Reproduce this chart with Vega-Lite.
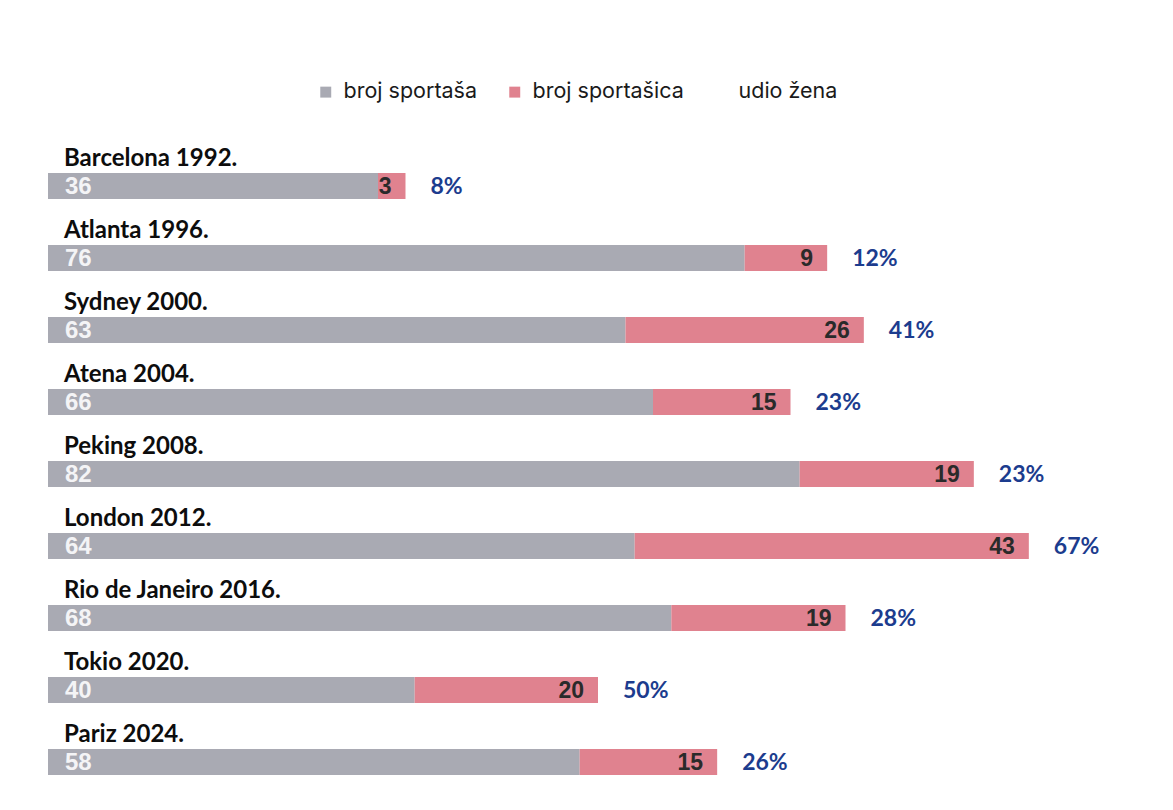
{
  "$schema": "https://vega.github.io/schema/vega-lite/v6.json",
  "width": 1173,
  "height": 810,
  "autosize": "none",
  "padding": 0,
  "background": "white",
  "config": {"view": {"stroke": null}},
  "data": {"values": [
    {"grad": "Barcelona 1992.", "spol": "broj sportaša", "broj": 36, "udio": 0.08},
    {"grad": "Barcelona 1992.", "spol": "broj sportašica", "broj": 3, "udio": 0.08},
    {"grad": "Atlanta 1996.", "spol": "broj sportaša", "broj": 76, "udio": 0.12},
    {"grad": "Atlanta 1996.", "spol": "broj sportašica", "broj": 9, "udio": 0.12},
    {"grad": "Sydney 2000.", "spol": "broj sportaša", "broj": 63, "udio": 0.41},
    {"grad": "Sydney 2000.", "spol": "broj sportašica", "broj": 26, "udio": 0.41},
    {"grad": "Atena 2004.", "spol": "broj sportaša", "broj": 66, "udio": 0.23},
    {"grad": "Atena 2004.", "spol": "broj sportašica", "broj": 15, "udio": 0.23},
    {"grad": "Peking 2008.", "spol": "broj sportaša", "broj": 82, "udio": 0.23},
    {"grad": "Peking 2008.", "spol": "broj sportašica", "broj": 19, "udio": 0.23},
    {"grad": "London 2012.", "spol": "broj sportaša", "broj": 64, "udio": 0.67},
    {"grad": "London 2012.", "spol": "broj sportašica", "broj": 43, "udio": 0.67},
    {"grad": "Rio de Janeiro 2016.", "spol": "broj sportaša", "broj": 68, "udio": 0.28},
    {"grad": "Rio de Janeiro 2016.", "spol": "broj sportašica", "broj": 19, "udio": 0.28},
    {"grad": "Tokio 2020.", "spol": "broj sportaša", "broj": 40, "udio": 0.50},
    {"grad": "Tokio 2020.", "spol": "broj sportašica", "broj": 20, "udio": 0.50},
    {"grad": "Pariz 2024.", "spol": "broj sportaša", "broj": 58, "udio": 0.26},
    {"grad": "Pariz 2024.", "spol": "broj sportašica", "broj": 15, "udio": 0.26}
  ]},
  "encoding": {
    "y": {"field": "grad", "type": "nominal", "sort": null, "axis": null,
          "scale": {"range": [138, 786], "paddingInner": 0, "paddingOuter": 0}}
  },
  "layer": [
    {
      "mark": {"type": "bar", "height": 26, "yOffset": 12},
      "encoding": {
        "x": {"field": "broj", "type": "quantitative", "stack": "zero", "axis": null,
              "scale": {"domain": [0, 120], "range": [48, 1148], "nice": false}},
        "color": {"field": "spol", "type": "nominal",
                  "scale": {"domain": ["broj sportaša", "broj sportašica", "udio žena"],
                            "range": ["#a9aab3", "#e0828f", "#ffffff"]},
                  "legend": {"orient": "none", "legendX": 315, "legendY": 81, "direction": "horizontal",
                             "title": null, "symbolType": "square", "symbolSize": 120,
                             "symbolStrokeWidth": 0, "labelFont": "Inter", "labelFontSize": 21.5,
                             "labelColor": "#1a1a1a", "columnPadding": 26, "labelOffset": 7}},
        "order": {"field": "spol", "sort": "ascending"}
      }
    },
    {
      "transform": [{"filter": "datum.spol === 'broj sportaša'"}],
      "mark": {"type": "text", "align": "left", "baseline": "middle", "dx": 16, "yOffset": -15,
               "font": "Lato", "fontWeight": "bold", "fontSize": 24, "color": "#0d0d0d"},
      "encoding": {"x": {"datum": 0}, "text": {"field": "grad"}}
    },
    {
      "transform": [{"filter": "datum.spol === 'broj sportaša'"}],
      "mark": {"type": "text", "align": "left", "baseline": "middle", "dx": 17, "yOffset": 13,
               "font": "Liberation Sans", "fontWeight": "bold", "fontSize": 24, "color": "#f4f4f6"},
      "encoding": {"x": {"datum": 0}, "text": {"field": "broj"}}
    },
    {
      "mark": {"type": "text", "align": "right", "baseline": "middle", "dx": -14, "yOffset": 13,
               "font": "Liberation Sans", "fontWeight": "bold", "fontSize": 23, "color": "#2a2a2a"},
      "encoding": {
        "x": {"field": "broj", "type": "quantitative", "stack": "zero"},
        "detail": {"field": "spol"},
        "order": {"field": "spol", "sort": "ascending"},
        "text": {"field": "broj"},
        "opacity": {"condition": {"test": "datum.spol === 'broj sportašica'", "value": 1}, "value": 0}
      }
    },
    {
      "mark": {"type": "text", "align": "left", "baseline": "middle", "dx": 25, "yOffset": 13,
               "font": "Lato", "fontWeight": "bold", "fontSize": 23, "color": "#1c3c8e"},
      "encoding": {
        "x": {"field": "broj", "type": "quantitative", "stack": "zero"},
        "detail": {"field": "spol"},
        "order": {"field": "spol", "sort": "ascending"},
        "text": {"field": "udio", "format": ".0%"},
        "opacity": {"condition": {"test": "datum.spol === 'broj sportašica'", "value": 1}, "value": 0}
      }
    }
  ]
}
